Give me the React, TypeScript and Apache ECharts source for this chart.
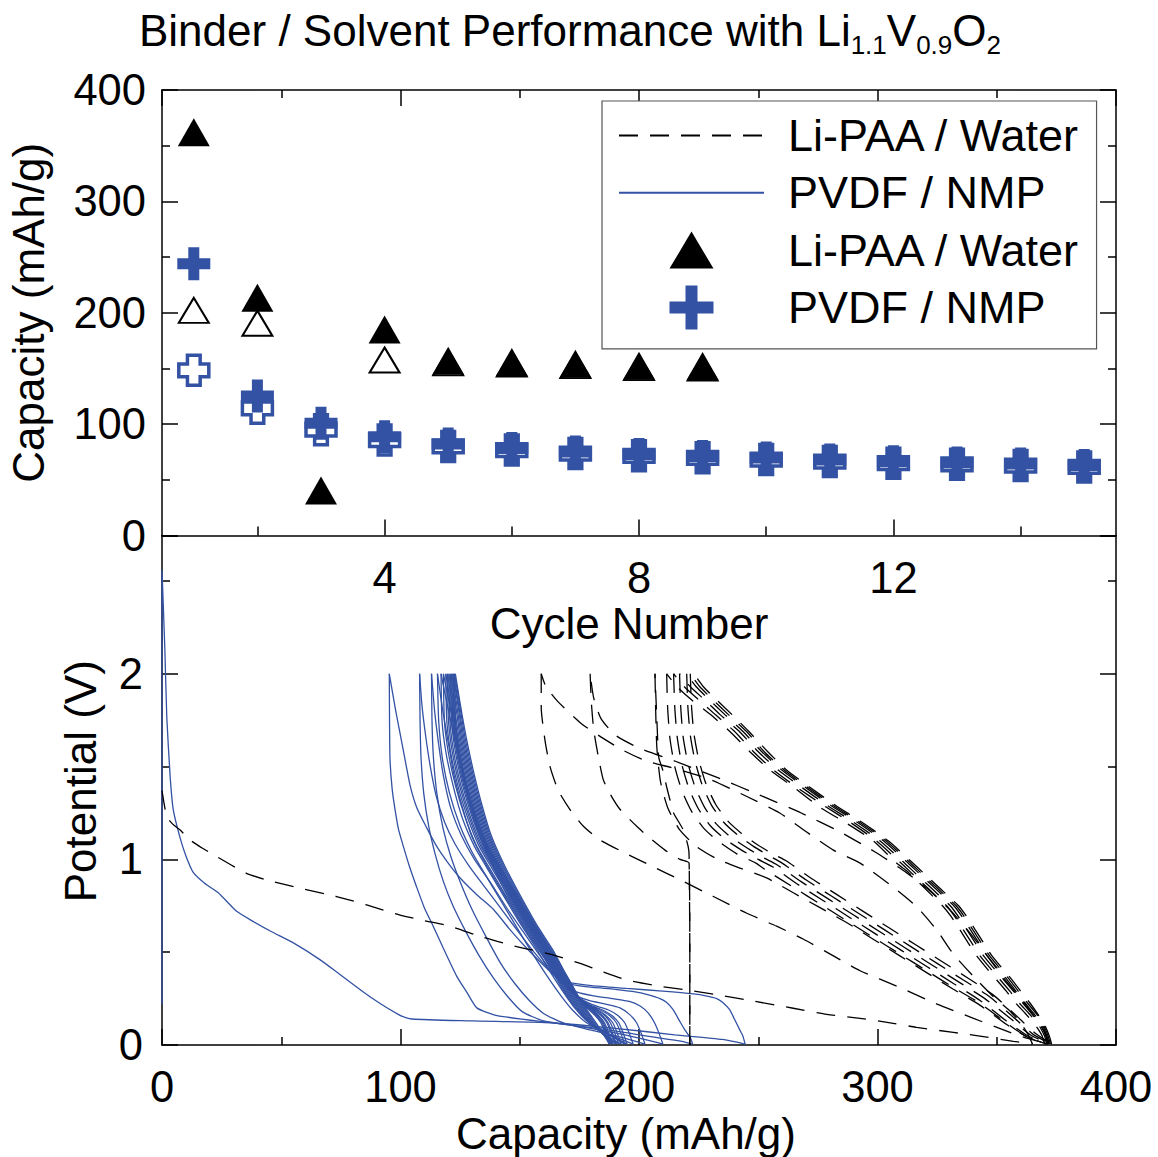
import React, { useEffect, useRef } from 'react';
import * as echarts from 'echarts';

const FONT = '"Liberation Sans", Arial, Helvetica, sans-serif';
const BLUE = '#3352a4';
const BLACK = '#000000';

// ---------- Upper panel: capacity vs cycle number ----------
const cycleNumbers = [1, 2, 3, 4, 5, 6, 7, 8, 9, 10, 11, 12, 13, 14, 15];
const liPaaDischargeCap = [362, 213.5, 40.5, 185, 157, 155.8, 154.3, 152.5, 152.1];
const liPaaChargeCap: (number | null)[] = [202.2, 190.6, null, 157.6, 155, 154, 152.5, 150.7, 150.3];
const pvdfDischargeCap = [243.9, 125.2, 100.7, 88.7, 82.1, 78.2, 74.9, 72.8, 71, 69.5, 67.7, 66.2, 65.2, 64.1, 62.9];
const pvdfChargeCap = [148.3, 114.2, 95, 85.7, 80, 76.7, 73.6, 71.5, 69.7, 68.2, 66.4, 64.9, 63.9, 62.8, 61.6];

const cycleMajorTicks = [4, 8, 12];
const cycleMinorTicks = [2, 6, 10, 14];

// ---------- Lower panel: potential (V) vs capacity (mAh/g) ----------
const pvdfDischargeCurves: number[][][] = [
  [[0,0.22],[0,2.56],[1.2,2.13],[2,1.77],[3.4,1.45],[4.7,1.27],[7.5,1.12],[10,1.02],[13.1,0.93],[18,0.87],[23.6,0.82],[31.3,0.72],[38.3,0.665],[46,0.61],[55.1,0.55],[66.2,0.46],[74.6,0.38],[87.2,0.26],[99.8,0.16],[104.7,0.14],[130,0.13],[163,0.12],[190,0.09],[215,0.055],[235,0.03],[244.5,0.005]],
  [[95.3,2.0],[95.4,1.75],[95.6,1.54],[96.5,1.38],[97.7,1.27],[99.2,1.16],[101.2,1.07],[103.8,0.96],[106.8,0.85],[110,0.74],[113.7,0.64],[118,0.52],[123.6,0.37],[128,0.28],[132,0.2],[140,0.16],[163,0.12],[185,0.085],[205,0.045],[218,0.02],[222.5,0.005]],
  [[108,2.0],[108.2,1.75],[108.6,1.55],[109.8,1.35],[111.8,1.18],[114.5,1.03],[118,0.88],[122,0.75],[127,0.62],[133,0.48],[139,0.36],[145,0.26],[151,0.18],[160,0.13],[175,0.1],[192,0.06],[204,0.025],[210,0.005]],
  [[113,2.0],[113.2,1.75],[113.8,1.55],[115.3,1.35],[117.8,1.17],[121,1.02],[125,0.88],[130,0.73],[136,0.58],[142,0.44],[148,0.33],[154,0.24],[160,0.17],[168,0.12],[180,0.08],[193,0.04],[202.5,0.005]],
  [[115.5,2.0],[116,1.75],[117.5,1.55],[120.5,1.36],[125,1.18],[130,1.04],[135,0.93],[141,0.8],[148,0.65],[155,0.5],[161,0.38],[167,0.27],[172,0.19],[178,0.12],[187,0.06],[197.5,0.005]],
  [[117,2.0],[117.4,1.75],[119,1.58],[122,1.4],[126,1.22],[131,1.07],[136,0.96],[142,0.83],[149,0.68],[156,0.54],[162,0.41],[168,0.29],[173,0.2],[179,0.12],[187,0.06],[195,0.005]],
  [[118,2.0],[118.4,1.75],[120,1.58],[123,1.4],[127,1.23],[132,1.07],[137,0.96],[143,0.83],[150,0.68],[157,0.54],[163,0.41],[168.5,0.29],[173.5,0.2],[179.5,0.12],[187,0.06],[194,0.005]],
  [[119,2.0],[119.4,1.75],[121,1.58],[124,1.4],[128,1.23],[133,1.07],[138,0.96],[144,0.83],[151,0.68],[157.5,0.54],[163.5,0.41],[169,0.29],[174,0.2],[180,0.11],[186,0.055],[192.5,0.005]],
  [[119.7,2.0],[120.1,1.75],[121.7,1.58],[124.7,1.4],[128.7,1.23],[133.7,1.07],[138.7,0.96],[144.7,0.83],[151.5,0.68],[158,0.54],[164,0.41],[169.5,0.29],[174.5,0.2],[180,0.11],[186,0.05],[191.5,0.005]],
  [[120.3,2.0],[120.7,1.75],[122.3,1.58],[125.3,1.4],[129.3,1.23],[134.3,1.07],[139.3,0.96],[145.3,0.83],[152,0.68],[158.5,0.54],[164.5,0.41],[170,0.29],[175,0.2],[180.5,0.11],[186,0.05],[190.5,0.005]],
  [[121,2.0],[121.4,1.75],[123,1.58],[126,1.4],[130,1.23],[135,1.07],[140,0.96],[146,0.83],[152.5,0.68],[159,0.54],[165,0.41],[170.5,0.29],[175.5,0.2],[181,0.11],[186,0.05],[190,0.005]],
  [[121.5,2.0],[121.9,1.75],[123.5,1.58],[126.5,1.4],[130.5,1.23],[135.5,1.07],[140.5,0.96],[146.5,0.83],[153,0.68],[159.5,0.54],[165.5,0.41],[171,0.29],[176,0.2],[181,0.11],[185.5,0.05],[189,0.005]],
  [[122,2.0],[122.4,1.75],[124,1.58],[127,1.4],[131,1.23],[136,1.07],[141,0.96],[147,0.83],[153.5,0.68],[160,0.54],[166,0.41],[171.5,0.29],[176.5,0.2],[181.5,0.11],[185.5,0.05],[188.5,0.005]],
  [[122.3,2.0],[122.7,1.75],[124.3,1.58],[127.3,1.4],[131.3,1.23],[136.3,1.07],[141.3,0.96],[147.3,0.83],[154,0.68],[160.5,0.54],[166.5,0.41],[172,0.29],[177,0.2],[182,0.11],[185.5,0.05],[188,0.005]],
  [[122.7,2.0],[123.1,1.75],[124.7,1.58],[127.7,1.4],[131.7,1.23],[136.7,1.07],[141.7,0.96],[147.7,0.83],[154.5,0.68],[161,0.54],[167,0.41],[172.5,0.29],[177.5,0.2],[182.5,0.11],[185.5,0.05],[187.5,0.005]],
];

const pvdfChargeCurves: number[][][] = [
  [[244.5,0.005],[243.5,0.05],[242.3,0.08],[240,0.14],[238,0.19],[235,0.23],[232.6,0.25],[228,0.265],[222.8,0.275],[210,0.29],[194.8,0.305],[180,0.32],[169.6,0.34],[165,0.37],[160,0.43],[153,0.52],[146,0.62],[139,0.73],[132,0.81],[125,0.9],[120,0.98],[115.2,1.07],[111,1.17],[106.8,1.28],[104,1.4],[101,1.6],[98,1.8],[95.3,2.0]],
  [[222.5,0.005],[221.5,0.04],[219.3,0.08],[217,0.13],[214.3,0.19],[211.5,0.23],[208.8,0.25],[204,0.27],[199,0.285],[190,0.3],[180.7,0.31],[172,0.325],[167,0.35],[162,0.41],[156,0.5],[150,0.6],[143,0.72],[136,0.84],[129,0.96],[123,1.08],[118.5,1.2],[115,1.34],[112.5,1.5],[110.5,1.67],[109,1.83],[108,2.0]],
  [[210,0.005],[208.5,0.06],[206.5,0.12],[204,0.17],[200.5,0.21],[196,0.235],[189,0.25],[181,0.265],[174,0.285],[169,0.32],[164,0.39],[158,0.49],[152,0.6],[145,0.73],[138,0.87],[131,1.0],[125.5,1.13],[121,1.28],[118,1.45],[116,1.62],[114.3,1.8],[113,2.0]],
  [[202.5,0.005],[201,0.06],[199,0.12],[196,0.165],[192,0.2],[186,0.22],[179,0.24],[173,0.27],[168.5,0.33],[163,0.42],[157,0.53],[150,0.67],[143,0.82],[136,0.97],[130,1.12],[126,1.28],[122.5,1.45],[120,1.63],[117.5,1.82],[115.5,2.0]],
  [[197.5,0.005],[196,0.06],[194,0.12],[191,0.16],[187,0.19],[181,0.215],[175.5,0.25],[170.5,0.31],[165.5,0.39],[159.5,0.5],[152.5,0.64],[145,0.8],[138.5,0.97],[133,1.13],[129,1.3],[125.5,1.48],[122.5,1.66],[119.5,1.84],[117,2.0]],
  [[195,0.005],[193.5,0.06],[191.5,0.12],[188.5,0.16],[184.5,0.19],[179.5,0.215],[175,0.25],[170.5,0.31],[165.5,0.4],[160,0.51],[153,0.65],[145.5,0.81],[139,0.97],[133.5,1.13],[129.5,1.3],[126,1.48],[123,1.66],[120.5,1.84],[118,2.0]],
  [[194,0.005],[192.5,0.06],[190.5,0.12],[187.5,0.16],[183.5,0.19],[179,0.215],[175,0.25],[171,0.31],[166,0.4],[160.5,0.51],[153.5,0.65],[146,0.81],[139.5,0.97],[134,1.13],[130,1.3],[126.5,1.48],[123.5,1.66],[121,1.84],[119,2.0]],
  [[192.5,0.005],[191,0.06],[189,0.12],[186,0.16],[182.5,0.19],[178.5,0.215],[175,0.25],[171,0.31],[166.5,0.4],[161,0.51],[154,0.65],[146.5,0.81],[140,0.97],[134.5,1.13],[130.5,1.3],[127,1.48],[124,1.66],[121.7,1.84],[119.7,2.0]],
  [[191.5,0.005],[190,0.06],[188,0.12],[185.5,0.16],[182,0.19],[178,0.215],[175,0.25],[171.5,0.31],[167,0.4],[161.5,0.51],[154.5,0.65],[147,0.81],[140.5,0.97],[135,1.13],[131,1.3],[127.5,1.48],[124.5,1.66],[122.3,1.84],[120.3,2.0]],
  [[190.5,0.005],[189,0.06],[187,0.12],[184.5,0.16],[181.5,0.19],[178,0.215],[175,0.25],[171.5,0.31],[167,0.4],[162,0.51],[155,0.65],[147.5,0.81],[141,0.97],[135.5,1.13],[131.5,1.3],[128,1.48],[125,1.66],[123,1.84],[121,2.0]],
  [[190,0.005],[188.5,0.06],[186.5,0.12],[184,0.16],[181,0.19],[177.5,0.215],[175,0.25],[172,0.31],[167.5,0.4],[162.5,0.51],[155.5,0.65],[148,0.81],[141.5,0.97],[136,1.13],[132,1.3],[128.5,1.48],[125.5,1.66],[123.5,1.84],[121.5,2.0]],
  [[189,0.005],[187.5,0.06],[185.5,0.12],[183,0.16],[180.5,0.19],[177.5,0.215],[175,0.25],[172,0.31],[168,0.4],[163,0.51],[156,0.65],[148.5,0.81],[142,0.97],[136.5,1.13],[132.5,1.3],[129,1.48],[126,1.66],[124,1.84],[122,2.0]],
  [[188.5,0.005],[187,0.06],[185,0.12],[182.5,0.16],[180,0.19],[177,0.215],[175,0.25],[172,0.31],[168,0.4],[163,0.51],[156,0.65],[149,0.81],[142.5,0.97],[137,1.13],[133,1.3],[129.5,1.48],[126.5,1.66],[124.3,1.84],[122.3,2.0]],
  [[188,0.005],[186.5,0.06],[184.5,0.12],[182,0.16],[179.5,0.19],[177,0.215],[175,0.25],[172.5,0.31],[168.5,0.4],[163.5,0.51],[156.5,0.65],[149.5,0.81],[143,0.97],[137.5,1.13],[133.5,1.3],[130,1.48],[127,1.66],[124.7,1.84],[122.7,2.0]],
  [[187.5,0.005],[186,0.06],[184,0.12],[181.5,0.16],[179,0.19],[176.5,0.215],[175,0.25],[172.5,0.31],[168.5,0.4],[164,0.51],[157,0.65],[150,0.81],[143.5,0.97],[138,1.13],[134,1.3],[130.5,1.48],[127.5,1.66],[125,1.84],[123,2.0]],
];

const liPaaDischargeCurves: number[][][] = [
  [[0,1.37],[2,1.23],[4.5,1.19],[7.5,1.16],[11.7,1.105],[17,1.06],[22.9,1.015],[29,0.97],[35.4,0.925],[43.8,0.89],[57.9,0.845],[73.2,0.8],[85.8,0.755],[99.8,0.7],[110,0.67],[120.8,0.64],[134.7,0.58],[148.7,0.53],[162.7,0.49],[175.3,0.44],[183.6,0.4],[194.8,0.35],[207,0.32],[220,0.296],[233,0.27],[246.5,0.24],[264.7,0.198],[278.7,0.165],[292.7,0.144],[306.6,0.117],[316.4,0.095],[331.8,0.068],[344.4,0.045],[357,0.02],[365,0.005]],
  [[159,2.0],[159,1.82],[160.6,1.64],[162.7,1.5],[166.2,1.37],[171,1.27],[176.6,1.18],[183.6,1.105],[194.8,1.03],[206,0.96],[217.2,0.89],[231.2,0.8],[245.2,0.71],[257.7,0.64],[269,0.57],[281.5,0.48],[292.7,0.4],[309.4,0.31],[325,0.22],[340,0.145],[352,0.085],[363,0.035],[372,0.005]],
  [[179.5,2.0],[180,1.85],[181,1.7],[183,1.55],[185,1.43],[188,1.35],[192,1.27],[199.7,1.17],[205,1.11],[210.9,1.05],[217.2,1.0],[221,0.98],[221.3,0.5],[221.3,0.0]],
  [[206.7,2.0],[207,1.8],[207.5,1.6],[209,1.42],[212,1.28],[217,1.16],[224,1.07],[233,1.0],[243,0.95],[253.5,0.9],[264.7,0.82],[275.9,0.74],[287,0.66],[298.2,0.57],[309.4,0.48],[320.6,0.39],[331.8,0.3],[342.9,0.215],[354.2,0.11],[362.5,0.045],[370,0.005]],
  [[211.6,2.0],[212,1.82],[213,1.65],[215,1.5],[218,1.37],[222,1.26],[227,1.17],[233,1.1],[241,1.03],[249,0.98],[253.5,0.94],[264.7,0.85],[275.9,0.76],[287,0.67],[298.2,0.58],[309.4,0.49],[320.6,0.4],[331.8,0.31],[342.9,0.225],[354.2,0.117],[362.5,0.045],[371,0.005]],
  [[214.5,2.0],[215,1.82],[216,1.66],[218,1.51],[221,1.38],[225,1.27],[230,1.18],[236,1.11],[243,1.05],[250,1.0],[256,0.96],[266,0.87],[277,0.78],[288,0.69],[299,0.6],[310,0.51],[321,0.42],[332,0.33],[343,0.24],[354,0.13],[363,0.05],[371.5,0.005]],
  [[217,2.0],[217.5,1.82],[218.5,1.66],[220.5,1.52],[223.5,1.39],[227.5,1.28],[232.5,1.19],[238.5,1.12],[245.5,1.06],[252,1.01],[258,0.97],[268,0.88],[279,0.79],[290,0.7],[301,0.61],[312,0.52],[323,0.43],[334,0.34],[345,0.25],[356,0.14],[364,0.055],[372,0.005]],
  [[220,2.0],[220.5,1.82],[221.5,1.67],[223.5,1.53],[226.5,1.4],[230.5,1.29],[235.5,1.2],[241.5,1.13],[248,1.07],[254.5,1.02],[260,0.98],[270,0.89],[281,0.8],[292,0.71],[303,0.62],[314,0.53],[325,0.44],[336,0.35],[347,0.26],[357,0.15],[365,0.06],[372.5,0.005]],
  [[221.5,2.0],[222,1.83],[223,1.68],[225,1.54],[228,1.41],[232,1.3],[237,1.21],[243,1.14],[249.5,1.08],[256,1.03],[262,0.99],[272,0.9],[283,0.81],[294,0.72],[305,0.63],[316,0.54],[327,0.45],[338,0.36],[348.5,0.27],[358,0.16],[366,0.065],[373,0.005]],
];

const liPaaChargeCurves: number[][][] = [
  [[365,0.005],[363,0.06],[360,0.12],[355,0.19],[348.6,0.26],[340.2,0.37],[331.8,0.49],[324.8,0.62],[316.4,0.745],[306.6,0.85],[292.7,0.98],[281.5,1.05],[270,1.15],[259,1.25],[245,1.34],[230,1.43],[215,1.49],[203,1.53],[193,1.59],[184,1.66],[176,1.73],[166,1.85],[161,1.93],[159,2.0]],
  [[372,0.005],[370,0.07],[366,0.15],[360,0.25],[353,0.36],[346,0.48],[339,0.6],[331,0.72],[322,0.83],[312,0.93],[299,1.04],[284,1.15],[268,1.25],[250,1.35],[233,1.44],[215,1.53],[200,1.6],[190,1.67],[184,1.76],[181,1.87],[179.5,2.0]],
  [[221.3,0.0],[221.3,0.5],[221,1.02],[220.6,1.07],[218.5,1.16],[214.5,1.25],[213,1.32],[211.6,1.39],[210,1.48],[208.3,1.55],[207.5,1.75],[206.7,2.0]],
  [[370,0.005],[369,0.05],[366,0.11],[362,0.17],[358,0.225],[354,0.29],[350,0.35],[346,0.41],[341.6,0.48],[338,0.55],[334.6,0.62],[331,0.69],[327.6,0.745],[322.5,0.81],[317.8,0.87],[313,0.93],[308,0.98],[298.2,1.1],[287,1.195],[275.9,1.28],[264.7,1.39],[255,1.48],[246.5,1.58],[238,1.69],[230,1.78],[222,1.86],[216,1.93],[211.6,2.0]],
  [[371,0.005],[370,0.05],[367.5,0.11],[363.5,0.17],[359.5,0.225],[355.5,0.29],[351.5,0.35],[347.5,0.41],[343,0.48],[339.5,0.55],[336,0.62],[332.5,0.69],[329,0.75],[324,0.81],[319,0.87],[314,0.93],[309,0.99],[299.5,1.1],[288.5,1.2],[277.5,1.29],[266,1.39],[256.5,1.48],[248,1.58],[240,1.69],[232,1.78],[225,1.86],[219,1.93],[214.5,2.0]],
  [[371.5,0.005],[370.5,0.05],[368.5,0.11],[364.5,0.17],[361,0.225],[357,0.29],[353,0.35],[349,0.41],[344.5,0.48],[341,0.55],[337.5,0.62],[334,0.69],[330.5,0.75],[325.5,0.81],[320.5,0.87],[315.5,0.93],[310.5,0.99],[301,1.1],[290,1.2],[279,1.29],[268,1.39],[258.5,1.48],[250,1.58],[242,1.69],[234,1.78],[227.5,1.86],[221.5,1.93],[217,2.0]],
  [[372,0.005],[371,0.05],[369,0.11],[365.5,0.17],[362,0.225],[358,0.29],[354.5,0.35],[350.5,0.41],[346,0.48],[342.5,0.55],[339,0.62],[335.5,0.69],[332,0.75],[327,0.81],[322,0.87],[317,0.93],[312,0.99],[302.5,1.1],[291.5,1.2],[280.5,1.29],[269.5,1.39],[260,1.48],[251.5,1.58],[243.5,1.69],[236,1.78],[229.5,1.86],[224,1.93],[220,2.0]],
  [[372.5,0.005],[371.5,0.05],[369.5,0.11],[366.5,0.17],[363,0.225],[359,0.29],[355.5,0.35],[351.5,0.41],[347,0.48],[343.5,0.55],[340,0.62],[336.5,0.69],[333,0.75],[328,0.81],[323,0.87],[318,0.93],[313,0.99],[303.5,1.1],[292.5,1.2],[281.5,1.29],[270.5,1.39],[261,1.48],[252.5,1.58],[245,1.69],[237.5,1.78],[231,1.86],[225.5,1.93],[221.5,2.0]],
  [[373,0.005],[372,0.05],[370,0.11],[367,0.17],[364,0.225],[360,0.29],[356.5,0.35],[352.5,0.41],[348,0.48],[344.5,0.55],[341,0.62],[337.5,0.69],[334,0.75],[329,0.81],[324,0.87],[319,0.93],[314,0.99],[304.5,1.1],[293.5,1.2],[282.5,1.29],[271.5,1.39],[262,1.48],[254,1.58],[246,1.69],[239,1.78],[232.5,1.86],[227,1.93],[223,2.0]],
];

// ---------- symbols ----------
const PLUS_FILLED = 'path://M11,0H22V11H33V22H22V33H11V22H0V11H11Z';
const PLUS_OPEN = 'path://M9.5,0H23.5V9.5H33V23.5H23.5V33H9.5V23.5H0V9.5H9.5Z';
const LEGEND_TRI = 'path://M0,0M22,3.5L44,40.5L0,40.5ZM44,44';
const LEGEND_PLUS = 'path://M16,0H28V16H44V28H28V44H16V28H0V16H16Z';

const pairs = (xs: number[], ys: (number | null)[]) =>
  ys.map((y, i) => (y == null ? null : [xs[i], y])).filter((p) => p !== null);

const axisLineStyle = { color: BLACK, width: 1.5 };
const labelStyle = { fontSize: 43.5, fontFamily: FONT, color: BLACK };
const nameStyle = { fontSize: 44, fontFamily: FONT, color: BLACK };

function buildOption(): any {
  const lineSeries: any[] = [];
  const addCurves = (curves: number[][][], name: string, color: string, dashed: boolean) => {
    curves.forEach((c) => {
      lineSeries.push({
        type: 'line',
        name,
        xAxisIndex: 3,
        yAxisIndex: 2,
        data: c,
        symbol: 'none',
        showSymbol: false,
        smooth: 0.2,
        silent: true,
        clip: true,
        z: dashed ? 3 : 2,
        lineStyle: { color, width: 1.3, type: dashed ? [19, 12] : 'solid', opacity: 1 },
        itemStyle: { color },
      });
    });
  };
  addCurves(pvdfDischargeCurves, 'PVDF / NMP', BLUE, false);
  addCurves(pvdfChargeCurves, 'PVDF / NMP', BLUE, false);
  addCurves(liPaaDischargeCurves, 'Li-PAA / Water', BLACK, true);
  addCurves(liPaaChargeCurves, 'Li-PAA / Water', BLACK, true);

  const scatterSeries: any[] = [
    {
      type: 'scatter', name: 'open-triangle', xAxisIndex: 0, yAxisIndex: 0,
      data: pairs(cycleNumbers, liPaaChargeCap), symbol: 'triangle', symbolSize: [30, 25],
      itemStyle: { color: '#ffffff', borderColor: BLACK, borderWidth: 2, opacity: 1 }, z: 5, silent: true,
    },
    {
      type: 'scatter', name: 'Li-PAA / Water ', xAxisIndex: 0, yAxisIndex: 0,
      data: pairs(cycleNumbers, liPaaDischargeCap), symbol: 'triangle', symbolSize: [32, 28],
      itemStyle: { color: BLACK, opacity: 1 }, z: 6, silent: true,
    },
    {
      type: 'scatter', name: 'open-plus', xAxisIndex: 0, yAxisIndex: 0,
      data: pairs(cycleNumbers, pvdfChargeCap), symbol: PLUS_OPEN, symbolSize: 30,
      itemStyle: { color: '#ffffff', borderColor: BLUE, borderWidth: 3.5, opacity: 1 }, z: 5, silent: true,
    },
    {
      type: 'scatter', name: 'PVDF / NMP ', xAxisIndex: 0, yAxisIndex: 0,
      data: pairs(cycleNumbers, pvdfDischargeCap), symbol: PLUS_FILLED, symbolSize: 33,
      itemStyle: { color: BLUE, opacity: 1 }, z: 6, silent: true,
    },
  ];

  const tickBase = { show: true, inside: true, lineStyle: axisLineStyle };

  return {
    animation: false,
    backgroundColor: '#ffffff',
    textStyle: { fontFamily: FONT },
    graphic: [
      {
        type: 'text',
        left: 139,
        top: 8,
        z: 100,
        style: {
          text: '{m|Binder / Solvent Performance with Li}{s|1.1}{m|V}{s|0.9}{m|O}{s|2}',
          fill: BLACK,
          rich: {
            m: { fontSize: 44, lineHeight: 56, fontFamily: FONT, fill: BLACK },
            s: { fontSize: 26, lineHeight: 26, fontFamily: FONT, fill: BLACK, verticalAlign: 'bottom' },
          },
        },
      },
    ],
    grid: [
      { left: 162, right: 42, top: 90, height: 445.5, outerBoundsMode: 'none', containLabel: false },
      { left: 162, right: 42, top: 535.5, height: 509.5, outerBoundsMode: 'none', containLabel: false },
    ],
    legend: {
      orient: 'vertical',
      left: 602,
      top: 101,
      padding: [12, 16, 19, 16],
      itemGap: 12.3,
      itemWidth: 145,
      itemHeight: 44,
      backgroundColor: '#ffffff',
      borderColor: '#555555',
      borderWidth: 1.2,
      borderRadius: 0,
      selectedMode: false,
      z: 20,
      textStyle: { fontSize: 45, fontFamily: FONT, color: BLACK, padding: [0, 0, 0, 19] },
      formatter: (n: string) => n.trim(),
      data: [
        { name: 'Li-PAA / Water', itemStyle: { opacity: 0 } },
        { name: 'PVDF / NMP', itemStyle: { opacity: 0 } },
        { name: 'Li-PAA / Water ', icon: LEGEND_TRI, itemStyle: { opacity: 1 } },
        { name: 'PVDF / NMP ', icon: LEGEND_PLUS, itemStyle: { opacity: 1 } },
      ],
    },
    xAxis: [
      {
        type: 'value', gridIndex: 0, position: 'bottom', min: 0.5, max: 15.5,
        axisLine: { show: true, onZero: false, lineStyle: axisLineStyle },
        axisTick: { ...tickBase, length: 16, customValues: cycleMajorTicks },
        axisLabel: { show: true, customValues: cycleMajorTicks, margin: 20, ...labelStyle },
        splitLine: { show: false },
        name: 'Cycle Number', nameLocation: 'middle', nameGap: 66, nameMoveOverlap: false,
        nameTextStyle: { ...nameStyle, padding: [0, 20, 0, 0] },
      },
      {
        type: 'value', gridIndex: 0, position: 'bottom', min: 0.5, max: 15.5,
        axisLine: { show: false, onZero: false },
        axisTick: { ...tickBase, length: 9, customValues: cycleMinorTicks },
        axisLabel: { show: false },
        splitLine: { show: false },
      },
      {
        type: 'value', gridIndex: 0, position: 'top', min: 0, max: 400, interval: 100,
        axisLine: { show: true, onZero: false, lineStyle: axisLineStyle },
        axisTick: { ...tickBase, length: 16 },
        minorTick: { show: true, splitNumber: 2, length: 8, lineStyle: axisLineStyle },
        axisLabel: { show: false },
        splitLine: { show: false },
      },
      {
        type: 'value', gridIndex: 1, position: 'bottom', min: 0, max: 400, interval: 100,
        axisLine: { show: true, onZero: false, lineStyle: axisLineStyle },
        axisTick: { ...tickBase, length: 16 },
        minorTick: { show: true, splitNumber: 2, length: 8, lineStyle: axisLineStyle },
        axisLabel: { show: true, margin: 20, ...labelStyle },
        splitLine: { show: false },
        name: 'Capacity (mAh/g)', nameLocation: 'middle', nameGap: 66, nameMoveOverlap: false,
        nameTextStyle: { ...nameStyle, padding: [0, 26, 0, 0] },
      },
    ],
    yAxis: [
      {
        type: 'value', gridIndex: 0, position: 'left', min: 0, max: 400, interval: 100,
        axisLine: { show: true, onZero: false, lineStyle: axisLineStyle },
        axisTick: { ...tickBase, length: 16 },
        minorTick: { show: true, splitNumber: 2, length: 8, lineStyle: axisLineStyle },
        axisLabel: { show: true, margin: 16, ...labelStyle },
        splitLine: { show: false },
        name: 'Capacity (mAh/g)', nameLocation: 'middle', nameGap: 112, nameRotate: 90, nameMoveOverlap: false,
        nameTextStyle: { ...nameStyle },
      },
      {
        type: 'value', gridIndex: 0, position: 'right', min: 0, max: 400, interval: 100,
        axisLine: { show: true, onZero: false, lineStyle: axisLineStyle },
        axisTick: { ...tickBase, length: 16 },
        minorTick: { show: true, splitNumber: 2, length: 8, lineStyle: axisLineStyle },
        axisLabel: { show: false },
        splitLine: { show: false },
      },
      {
        type: 'value', gridIndex: 1, position: 'left', min: 0, max: 2.745, interval: 1,
        axisLine: { show: true, onZero: false, lineStyle: axisLineStyle },
        axisTick: { ...tickBase, length: 16 },
        minorTick: { show: true, splitNumber: 2, length: 8, lineStyle: axisLineStyle },
        axisLabel: { show: true, margin: 19, showMaxLabel: false, ...labelStyle },
        splitLine: { show: false },
        name: 'Potential (V)', nameLocation: 'middle', nameGap: 60, nameRotate: 90, nameMoveOverlap: false,
        nameTextStyle: { ...nameStyle, padding: [0, 0, 0, 18] },
      },
      {
        type: 'value', gridIndex: 1, position: 'right', min: 0, max: 2.745, interval: 1,
        axisLine: { show: true, onZero: false, lineStyle: axisLineStyle },
        axisTick: { ...tickBase, length: 16 },
        minorTick: { show: true, splitNumber: 2, length: 8, lineStyle: axisLineStyle },
        axisLabel: { show: false },
        splitLine: { show: false },
      },
    ],
    series: [...lineSeries, ...scatterSeries],
  };
}

export default function App() {
  const ref = useRef<HTMLDivElement>(null);
  useEffect(() => {
    if (!ref.current) return;
    const chart = echarts.init(ref.current, null, { renderer: 'svg' });
    chart.setOption(buildOption());
    return () => {
      chart.dispose();
    };
  }, []);
  return (
    <div
      ref={ref}
      style={{ position: 'absolute', left: 0, top: 0, width: 1158, height: 1157, background: '#ffffff' }}
    />
  );
}
